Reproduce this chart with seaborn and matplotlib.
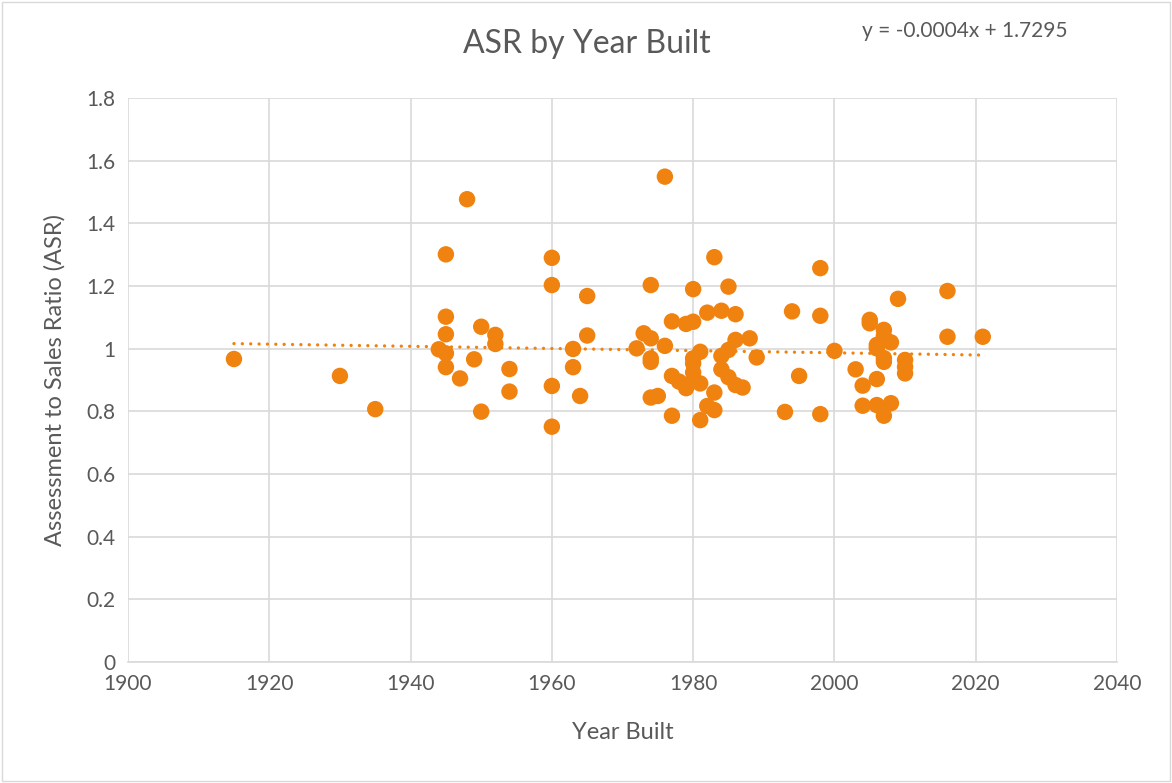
import matplotlib

matplotlib.use("Agg")
import matplotlib.pyplot as plt
import numpy as np
import pandas as pd
import seaborn as sns

# values
year_built = [
    1915, 1930, 1935, 1944, 1945, 1945, 1945, 1945, 1945, 1947,
    1948, 1949, 1950, 1950, 1952, 1952, 1954, 1954, 1960, 1960,
    1960, 1960, 1963, 1963, 1964, 1965, 1965, 1972, 1973, 1974,
    1974, 1974, 1974, 1974, 1975, 1976, 1976, 1977, 1977, 1977,
    1978, 1979, 1979, 1980, 1980, 1980, 1980, 1980, 1980, 1981,
    1981, 1981, 1982, 1982, 1983, 1983, 1983, 1984, 1984, 1984,
    1985, 1985, 1985, 1986, 1986, 1986, 1987, 1988, 1989, 1993,
    1994, 1995, 1998, 1998, 1998, 2000, 2003, 2004, 2004, 2005,
    2005, 2006, 2006, 2006, 2006, 2007, 2007, 2007, 2007, 2007,
    2008, 2008, 2009, 2010, 2010, 2010, 2016, 2016, 2021,
]
asr = [
    0.967, 0.913, 0.807, 0.998, 1.301, 1.102, 1.046, 0.985, 0.941, 0.905,
    1.477, 0.966, 1.070, 0.799, 1.044, 1.015, 0.935, 0.863, 1.290, 1.203,
    0.881, 0.751, 0.999, 0.941, 0.849, 1.168, 1.042, 1.001, 1.049, 1.203,
    1.033, 0.969, 0.958, 0.844, 0.849, 1.549, 1.009, 1.087, 0.913, 0.786,
    0.895, 1.079, 0.874, 1.190, 1.086, 0.969, 0.953, 0.924, 0.902, 0.990,
    0.889, 0.772, 1.115, 0.817, 1.292, 0.860, 0.804, 1.121, 0.977, 0.934,
    1.198, 0.996, 0.909, 1.110, 1.028, 0.884, 0.876, 1.033, 0.972, 0.798,
    1.119, 0.913, 1.257, 1.105, 0.791, 0.993, 0.934, 0.882, 0.818, 1.092,
    1.081, 1.012, 1.001, 0.903, 0.820, 1.060, 1.040, 0.970, 0.958, 0.786,
    1.020, 0.826, 1.159, 0.964, 0.942, 0.921, 1.184, 1.038, 1.038,
]
x_ticks = [1900, 1920, 1940, 1960, 1980, 2000, 2020, 2040]
y_ticks = [0, 0.2, 0.4, 0.6, 0.8, 1, 1.2, 1.4, 1.6, 1.8]
trend_label = "y = -0.0004x + 1.7295"

df = pd.DataFrame({"Year Built": year_built, "ASR": asr})

sns.set_theme(style="white")
plt.rcParams["font.family"] = ["Lato", "DejaVu Sans"]

ORANGE = "#F0820F"
TEXT = "#595959"
GRID = "#D9D9D9"

fig = plt.figure(figsize=(11.72, 7.83), dpi=100)
ax = fig.add_axes([128 / 1172, 1 - 662 / 783, (1117 - 128) / 1172, (662 - 98) / 783])

sns.scatterplot(data=df, x="Year Built", y="ASR", color=ORANGE, s=140,
                edgecolor="none", ax=ax, zorder=3)
sns.regplot(data=df, x="Year Built", y="ASR", scatter=False, ci=None, ax=ax,
            line_kws={"color": ORANGE, "linewidth": 2.4, "linestyle": (0, (0.01, 2.5)),
                      "dash_capstyle": "round", "zorder": 2})

ax.set_xlim(1900, 2040)
ax.set_ylim(0, 1.8)
ax.set_xticks(x_ticks)
ax.set_yticks(y_ticks)
ax.set_yticklabels([f"{v:g}" for v in y_ticks])
ax.grid(True, color=GRID, linewidth=1.2)
ax.set_axisbelow(True)
for side in ["top", "right", "left"]:
    ax.spines[side].set_visible(False)
ax.spines["bottom"].set_color(GRID)
ax.spines["bottom"].set_linewidth(1.2)
ax.tick_params(axis="both", length=0, labelsize=15, labelcolor=TEXT, pad=9)

ax.set_xlabel("Year Built", fontsize=17, color=TEXT, labelpad=20)
ax.set_ylabel("Assessment to Sales Ratio (ASR)", fontsize=17, color=TEXT, labelpad=15)
fig.text(587 / 1172, 1 - 44 / 783, "ASR by Year Built", ha="center", va="center",
         fontsize=23, color=TEXT)
fig.text(965 / 1172, 1 - 31 / 783, trend_label, ha="center", va="center",
         fontsize=15, color=TEXT)

# light border round the whole chart
fig.patches.append(plt.Rectangle((0.002, 0.002), 0.996, 0.996, transform=fig.transFigure,
                                 fill=False, edgecolor=GRID, linewidth=1))

fig.savefig("out.png", dpi=100)
